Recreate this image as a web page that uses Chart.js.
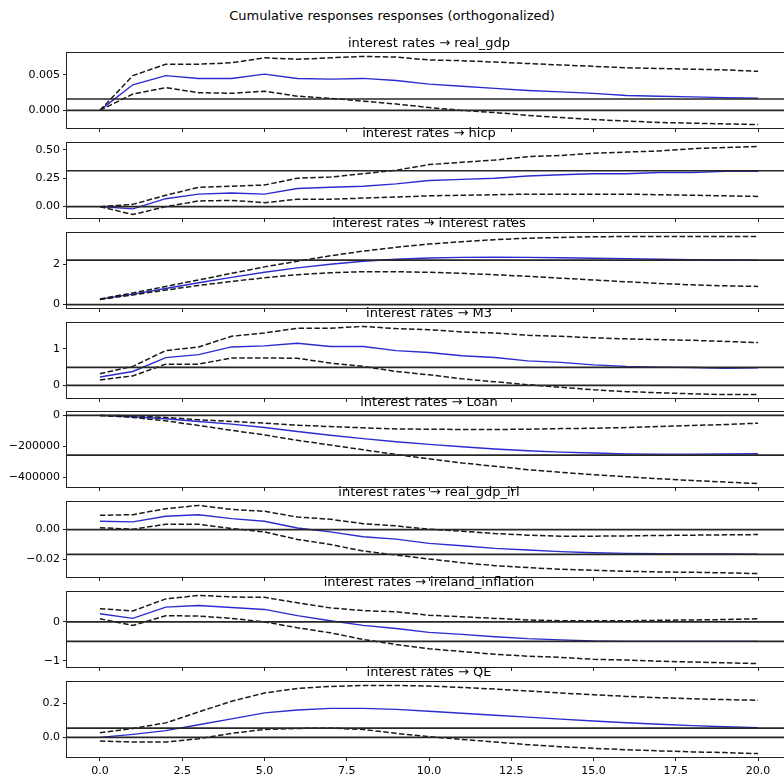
<!DOCTYPE html>
<html>
<head>
<meta charset="utf-8">
<script src="https://cdn.jsdelivr.net/npm/chart.js@4.4.0/dist/chart.umd.min.js"></script>
<style>
html, body { margin: 0; padding: 0; width: 784px; height: 778px; overflow: hidden; background: #fff; }
#title { position: absolute; left: 0; top: 8px; width: 784px; text-align: center; font: 13px "DejaVu Sans"; line-height: 16px; color: #000; }
canvas { position: absolute; left: 0; }
</style>
</head>
<body>
<div id="title">Cumulative responses responses (orthogonalized)</div>
<script>
const horizons = [0, 1, 2, 3, 4, 5, 6, 7, 8, 9, 10, 11, 12, 13, 14, 15, 16, 17, 18, 19, 20];
const xTicks = [0, 2.5, 5, 7.5, 10, 12.5, 15, 17.5, 20];

const panelTitles = [
    "interest rates \u2192 real_gdp",
    "interest rates \u2192 hicp",
    "interest rates \u2192 interest rates",
    "interest rates \u2192 M3",
    "interest rates \u2192 Loan",
    "interest rates \u2192 real_gdp_irl",
    "interest rates \u2192 ireland_inflation",
    "interest rates \u2192 QE"
];

// long run effects (the second horizontal line in every panel)
const longRunEffects = [0.0016, 0.316, 2.2, 0.49, -256000, -0.0169, -0.5, 0.055];

const yTickValues = [[0, 0.005], [0, 0.25, 0.5], [0, 2], [0, 1], [-400000, -200000, 0], [-0.02, 0], [-1, 0], [0, 0.2]];
const yTickLabels = [["0.000", "0.005"], ["0.00", "0.25", "0.50"], ["0", "2"], ["0", "1"], ["\u2212400000", "\u2212200000", "0"], ["\u22120.02", "0.00"], ["\u22121", "0"], ["0.0", "0.2"]];

const realGdpMid = [0, 0.0036, 0.0049, 0.0045, 0.0045, 0.0051, 0.0045, 0.0044, 0.0045, 0.0042, 0.0037, 0.0034, 0.0031, 0.0028, 0.0026, 0.0024, 0.0021, 0.0020, 0.0019, 0.0018, 0.0017];
const realGdpUpper = [0, 0.0049, 0.0065, 0.0065, 0.0067, 0.0074, 0.0072, 0.0074, 0.0076, 0.0075, 0.0071, 0.0070, 0.0068, 0.0066, 0.0064, 0.0062, 0.0060, 0.0059, 0.0058, 0.0057, 0.0055];
const realGdpLower = [0, 0.0023, 0.0032, 0.0025, 0.0024, 0.0027, 0.0020, 0.0017, 0.0013, 0.0009, 0.0004, 0.0000, -0.0003, -0.0007, -0.0010, -0.0013, -0.0015, -0.0017, -0.0018, -0.0019, -0.0020];

const hicpMid = [0, -0.02, 0.07, 0.11, 0.12, 0.11, 0.16, 0.17, 0.18, 0.20, 0.23, 0.24, 0.25, 0.27, 0.28, 0.29, 0.29, 0.30, 0.30, 0.31, 0.31];
const hicpUpper = [0, 0.02, 0.10, 0.17, 0.18, 0.19, 0.25, 0.26, 0.29, 0.32, 0.37, 0.39, 0.41, 0.44, 0.45, 0.47, 0.48, 0.49, 0.51, 0.52, 0.53];
const hicpLower = [0, -0.07, 0.0, 0.05, 0.055, 0.035, 0.065, 0.065, 0.075, 0.085, 0.095, 0.10, 0.105, 0.11, 0.11, 0.11, 0.11, 0.105, 0.10, 0.095, 0.09];

const ratesMid = [0.27, 0.52, 0.8, 1.08, 1.35, 1.6, 1.82, 2.0, 2.15, 2.25, 2.31, 2.34, 2.35, 2.34, 2.32, 2.3, 2.28, 2.25, 2.23, 2.21, 2.2];
const ratesUpper = [0.28, 0.58, 0.9, 1.22, 1.55, 1.87, 2.15, 2.42, 2.65, 2.84, 3.0, 3.12, 3.22, 3.29, 3.33, 3.36, 3.38, 3.38, 3.38, 3.38, 3.38];
const ratesLower = [0.25, 0.48, 0.72, 0.95, 1.15, 1.33, 1.48, 1.58, 1.63, 1.63, 1.6, 1.55, 1.48, 1.4, 1.31, 1.22, 1.13, 1.05, 0.98, 0.93, 0.9];

const m3Mid = [0.23, 0.38, 0.76, 0.84, 1.05, 1.08, 1.15, 1.06, 1.06, 0.95, 0.9, 0.81, 0.76, 0.67, 0.63, 0.56, 0.52, 0.5, 0.49, 0.47, 0.48];
const m3Upper = [0.32, 0.52, 0.95, 1.05, 1.34, 1.43, 1.56, 1.56, 1.61, 1.55, 1.52, 1.46, 1.43, 1.37, 1.34, 1.3, 1.27, 1.25, 1.23, 1.2, 1.17];
const m3Lower = [0.15, 0.26, 0.58, 0.58, 0.75, 0.75, 0.74, 0.61, 0.52, 0.38, 0.29, 0.18, 0.1, 0.02, -0.05, -0.12, -0.17, -0.2, -0.23, -0.25, -0.25];

const loanMid = [0, -8700, -21700, -39000, -56500, -78000, -104000, -128000, -150000, -170000, -187000, -202000, -217000, -228000, -237000, -243000, -248000, -250000, -250000, -249000, -247000];
const loanUpper = [0, -2000, -13000, -28000, -39000, -50000, -63000, -72000, -80000, -87000, -89000, -91000, -91000, -89000, -85000, -83000, -78000, -72000, -65000, -59000, -50000];
const loanLower = [0, -13000, -35000, -65000, -96000, -126000, -161000, -191000, -222000, -252000, -280000, -307000, -328000, -350000, -367000, -383000, -396000, -409000, -420000, -430000, -440000];

const gdpIrlMid = [0.0056, 0.0052, 0.009, 0.0101, 0.0074, 0.0056, 0.0011, -0.0016, -0.0049, -0.0065, -0.0094, -0.011, -0.0128, -0.0139, -0.015, -0.0157, -0.0162, -0.0164, -0.0165, -0.0166, -0.0167];
const gdpIrlUpper = [0.0097, 0.0101, 0.0142, 0.0164, 0.0137, 0.0124, 0.0085, 0.007, 0.004, 0.0025, 0.0002, -0.0011, -0.0027, -0.0038, -0.0045, -0.0045, -0.0043, -0.004, -0.0038, -0.0036, -0.0034];
const gdpIrlLower = [0.0013, 0.0002, 0.0036, 0.0036, 0.0007, -0.0016, -0.0067, -0.0101, -0.0146, -0.0173, -0.02, -0.0225, -0.0245, -0.0258, -0.027, -0.0276, -0.0283, -0.0288, -0.029, -0.0294, -0.0299];

const inflationMid = [0.21, 0.09, 0.38, 0.42, 0.37, 0.32, 0.16, 0.03, -0.09, -0.17, -0.27, -0.32, -0.38, -0.43, -0.46, -0.49, -0.5, -0.5, -0.5, -0.5, -0.5];
const inflationUpper = [0.34, 0.28, 0.59, 0.68, 0.64, 0.63, 0.49, 0.36, 0.29, 0.26, 0.17, 0.13, 0.09, 0.05, 0.03, 0.03, 0.03, 0.04, 0.05, 0.06, 0.08];
const inflationLower = [0.08, -0.09, 0.16, 0.15, 0.09, 0, -0.15, -0.28, -0.45, -0.58, -0.69, -0.76, -0.83, -0.88, -0.91, -0.96, -0.98, -1.01, -1.03, -1.05, -1.07];

const qeMid = [0, 0.018, 0.04, 0.075, 0.11, 0.145, 0.162, 0.172, 0.172, 0.166, 0.155, 0.143, 0.131, 0.12, 0.108, 0.097, 0.087, 0.078, 0.07, 0.063, 0.058];
const qeUpper = [0.027, 0.053, 0.086, 0.151, 0.214, 0.263, 0.29, 0.302, 0.308, 0.308, 0.304, 0.296, 0.286, 0.275, 0.263, 0.253, 0.243, 0.235, 0.229, 0.224, 0.22];
const qeLower = [-0.022, -0.027, -0.027, -0.008, 0.024, 0.047, 0.053, 0.055, 0.047, 0.024, 0.004, -0.012, -0.027, -0.043, -0.055, -0.065, -0.073, -0.08, -0.086, -0.09, -0.096];

const mids = [realGdpMid, hicpMid, ratesMid, m3Mid, loanMid, gdpIrlMid, inflationMid, qeMid];
const uppers = [realGdpUpper, hicpUpper, ratesUpper, m3Upper, loanUpper, gdpIrlUpper, inflationUpper, qeUpper];
const lowers = [realGdpLower, hicpLower, ratesLower, m3Lower, loanLower, gdpIrlLower, inflationLower, qeLower];

const xMin = -1;
const xMax = 21;
const areaTops = [53, 143, 233, 323, 412, 502, 592, 682];
const areaHeight = 75;
const padTop = 22;

Chart.defaults.font.family = "DejaVu Sans";
Chart.defaults.font.size = 11;
Chart.defaults.color = "#000";

const frame = {
    id: "frame",
    afterDraw(chart, args, opts) {
        let ctx = chart.ctx;
        let a = chart.chartArea;
        ctx.save();
        ctx.strokeStyle = "#222";
        ctx.lineWidth = 1;
        ctx.strokeRect(a.left - 0.5, a.top - 0.5, a.right - a.left + 1, a.bottom - a.top + 1);
        ctx.font = '13px "DejaVu Sans"';
        ctx.fillStyle = "#000";
        ctx.textAlign = "center";
        ctx.textBaseline = "alphabetic";
        ctx.fillText(opts.text, (a.left + a.right) / 2, a.top - 6);
        ctx.restore();
    }
};

function toPoints(values) {
    return horizons.map((h, i) => ({ x: h, y: values[i] }));
}

function hline(v) {
    return [{ x: xMin, y: v }, { x: xMax, y: v }];
}

function drawPanel(i) {
    let last = i === panelTitles.length - 1;
    let bottomH = last ? 30 : 10;

    let canvas = document.createElement("canvas");
    canvas.width = 800;
    canvas.height = padTop + areaHeight + bottomH;
    canvas.style.top = (areaTops[i] - padTop) + "px";
    document.body.appendChild(canvas);

    let all = mids[i].concat(uppers[i], lowers[i], [0, longRunEffects[i]]);
    let lo = Math.min(...all);
    let hi = Math.max(...all);
    let margin = (hi - lo) * 0.05;

    let hlineStyle = { borderColor: "#262626", borderWidth: 1.7, pointRadius: 0 };
    let dashStyle = { borderColor: "#1a1a1a", borderWidth: 1.5, borderDash: [5.5, 2.4], pointRadius: 0 };

    new Chart(canvas, {
        type: "line",
        data: {
            datasets: [
                { data: hline(0), ...hlineStyle },
                { data: hline(longRunEffects[i]), ...hlineStyle },
                { data: toPoints(uppers[i]), ...dashStyle },
                { data: toPoints(lowers[i]), ...dashStyle },
                { data: toPoints(mids[i]), borderColor: "#2b2bd0", borderWidth: 1.4, pointRadius: 0 }
            ]
        },
        plugins: [frame],
        options: {
            responsive: false,
            animation: false,
            devicePixelRatio: 1,
            layout: { padding: { top: padTop, left: 0, right: 9, bottom: 0 } },
            plugins: {
                legend: { display: false },
                tooltip: { enabled: false },
                frame: { text: panelTitles[i] }
            },
            scales: {
                x: {
                    type: "linear",
                    min: xMin,
                    max: xMax,
                    afterBuildTicks: (scale) => { scale.ticks = xTicks.map(v => ({ value: v })); },
                    afterFit: (scale) => { scale.height = bottomH; },
                    grid: { drawOnChartArea: false, drawTicks: true, tickLength: 4, color: "#222", lineWidth: 1 },
                    border: { display: false },
                    ticks: {
                        display: last,
                        padding: 4,
                        maxRotation: 0,
                        callback: (v) => v.toFixed(1)
                    }
                },
                y: {
                    type: "linear",
                    min: lo - margin,
                    max: hi + margin,
                    afterBuildTicks: (scale) => { scale.ticks = yTickValues[i].map(v => ({ value: v })); },
                    afterFit: (scale) => { scale.width = 67; },
                    grid: { drawOnChartArea: false, drawTicks: true, tickLength: 4, color: "#222", lineWidth: 1 },
                    border: { display: false },
                    ticks: {
                        padding: 3,
                        callback: (v, idx) => yTickLabels[i][idx]
                    }
                }
            }
        }
    });
}

for (let i = 0; i < panelTitles.length; i++) {
    drawPanel(i);
}
</script>
</body>
</html>
